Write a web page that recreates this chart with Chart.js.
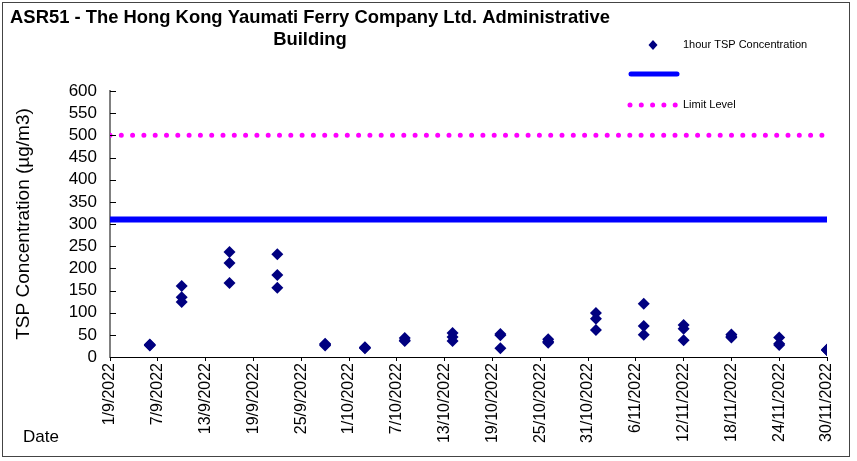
<!DOCTYPE html>
<html>
<head>
<meta charset="utf-8">
<script src="https://cdn.jsdelivr.net/npm/chart.js@4.4.0/dist/chart.umd.min.js"></script>
<style>
  html, body { margin: 0; padding: 0; background: #fff; }
  #wrap { position: relative; width: 857px; height: 461px; }
  #frame { position: absolute; left: 2px; top: 2px; width: 848px; height: 455px; border: 1px solid #444; box-sizing: border-box; pointer-events: none; }
</style>
</head>
<body>
<div id="wrap">
  <canvas id="chart" width="857" height="461"></canvas>
  <div id="frame"></div>
</div>
<script>
// sampling dates (d/m/yyyy) and 1-hour TSP readings, ug/m3
var sampleDates = [
  '6/9/2022', '6/9/2022', '6/9/2022',
  '10/9/2022', '10/9/2022', '10/9/2022',
  '16/9/2022', '16/9/2022', '16/9/2022',
  '22/9/2022', '22/9/2022', '22/9/2022',
  '28/9/2022', '28/9/2022', '28/9/2022',
  '3/10/2022', '3/10/2022', '3/10/2022',
  '8/10/2022', '8/10/2022', '8/10/2022',
  '14/10/2022', '14/10/2022', '14/10/2022',
  '20/10/2022', '20/10/2022', '20/10/2022',
  '26/10/2022', '26/10/2022', '26/10/2022',
  '1/11/2022', '1/11/2022', '1/11/2022',
  '7/11/2022', '7/11/2022', '7/11/2022',
  '12/11/2022', '12/11/2022', '12/11/2022',
  '18/11/2022', '18/11/2022', '18/11/2022',
  '24/11/2022', '24/11/2022', '24/11/2022',
  '30/11/2022', '30/11/2022', '30/11/2022'
];
var tspValues = [
  26, 28, 27,
  160, 135, 124,
  237, 212, 167,
  232, 185, 156,
  26, 30, 28,
  22, 20, 21,
  43, 38, 36,
  54, 45, 36,
  52, 49, 20,
  40, 35, 32,
  99, 86, 61,
  120, 70, 50,
  72, 64, 38,
  51, 47, 44,
  44, 30, 27,
  17, 16, 15
];
var actionLevel = 310;
var limitLevel = 500;
var axisStart = '1/9/2022';
var axisEnd = '30/11/2022';
var yTicks = [0, 50, 100, 150, 200, 250, 300, 350, 400, 450, 500, 550, 600];

function parseDate(s) {
  var p = s.split('/');
  return Date.UTC(+p[2], +p[1] - 1, +p[0]);
}
var DAY = 86400000;
var t0 = parseDate(axisStart);
function dayOf(s) { return (parseDate(s) - t0) / DAY; }
function labelOf(d) {
  var dt = new Date(t0 + d * DAY);
  return dt.getUTCDate() + '/' + (dt.getUTCMonth() + 1) + '/' + dt.getUTCFullYear();
}
var xMax = dayOf(axisEnd);

var points = sampleDates.map(function(s, i) { return { x: dayOf(s), y: tspValues[i] }; });

var FONT = 'Arial, "Liberation Sans", sans-serif';

// title, legend, inward y ticks, "Date" label
var decor = {
  id: 'decor',
  afterDraw: function(chart) {
    var ctx = chart.ctx;
    var ds = chart.data.datasets;
    ctx.save();
    ctx.fillStyle = '#000';
    ctx.font = 'bold 18.4px ' + FONT;
    ctx.textAlign = 'center';
    ctx.textBaseline = 'alphabetic';
    ctx.fillText('ASR51 - The Hong Kong Yaumati Ferry Company Ltd. Administrative', 310, 23);
    ctx.fillText('Building', 310, 45);

    // legend
    ctx.fillStyle = ds[0].backgroundColor;
    ctx.beginPath();
    ctx.moveTo(653, 40); ctx.lineTo(657.5, 45); ctx.lineTo(653, 50); ctx.lineTo(648.5, 45);
    ctx.closePath(); ctx.fill();
    ctx.fillStyle = '#000';
    ctx.font = '11px ' + FONT;
    ctx.textAlign = 'left';
    ctx.textBaseline = 'middle';
    ctx.fillText(ds[0].label, 683, 45);

    ctx.strokeStyle = ds[1].borderColor;
    ctx.lineWidth = 5;
    ctx.lineCap = 'round';
    ctx.beginPath(); ctx.moveTo(631, 74); ctx.lineTo(677, 74); ctx.stroke();

    ctx.strokeStyle = ds[2].borderColor;
    ctx.setLineDash(ds[2].borderDash);
    ctx.beginPath(); ctx.moveTo(630, 105); ctx.lineTo(678, 105); ctx.stroke();
    ctx.setLineDash([]);
    ctx.fillText(ds[2].label, 683, 105);

    // y ticks pointing inward
    var ys = chart.scales.y;
    ctx.strokeStyle = '#000';
    ctx.lineWidth = 1;
    ctx.lineCap = 'butt';
    ys.ticks.forEach(function(t) {
      var py = Math.round(ys.getPixelForValue(t.value)) + 0.5;
      ctx.beginPath(); ctx.moveTo(ys.right, py); ctx.lineTo(ys.right + 6, py); ctx.stroke();
    });

    ctx.font = '17px ' + FONT;
    ctx.textBaseline = 'alphabetic';
    ctx.fillText('Date', 23, 442);
    ctx.restore();
  }
};

new Chart(document.getElementById('chart'), {
  type: 'scatter',
  data: {
    datasets: [
      {
        label: '1hour TSP Concentration',
        data: points,
        pointStyle: 'rectRot',
        pointRadius: 6,
        pointHoverRadius: 6,
        backgroundColor: '#000080',
        borderColor: '#000080',
        borderWidth: 0,
        order: 0
      },
      {
        label: '',
        type: 'line',
        data: [{ x: 0, y: actionLevel }, { x: xMax + 0.3, y: actionLevel }],
        borderColor: '#0000FF',
        borderWidth: 6,
        pointRadius: 0,
        order: 2
      },
      {
        label: 'Limit Level',
        type: 'line',
        data: [{ x: 0, y: limitLevel }, { x: xMax + 0.3, y: limitLevel }],
        borderColor: '#FF00FF',
        borderWidth: 5,
        borderDash: [0, 11.3],
        borderCapStyle: 'round',
        pointRadius: 0,
        order: 1
      }
    ]
  },
  options: {
    responsive: false,
    animation: false,
    events: [],
    layout: { padding: { left: 12, right: 30, top: 91, bottom: 0 } },
    plugins: { legend: { display: false }, title: { display: false }, tooltip: { enabled: false } },
    scales: {
      x: {
        type: 'linear',
        min: 0,
        max: xMax,
        afterBuildTicks: function(scale) {
          var t = [];
          for (var d = 0; d <= xMax; d += 6) t.push({ value: d });
          scale.ticks = t;
        },
        afterFit: function(scale) { scale.height = 104; },
        border: { display: true, color: '#000', width: 1 },
        grid: { drawOnChartArea: false, drawTicks: true, tickLength: 4, color: '#000', offset: false },
        ticks: {
          autoSkip: false,
          maxRotation: 90,
          minRotation: 90,
          padding: 2,
          color: '#000',
          font: { family: FONT, size: 16 },
          callback: function(v) { return labelOf(v); }
        }
      },
      y: {
        min: 0,
        max: 600,
        afterBuildTicks: function(scale) {
          scale.ticks = yTicks.map(function(v) { return { value: v }; });
        },
        afterFit: function(scale) { scale.width = 98; },
        border: { display: true, color: '#808080', width: 2 },
        grid: { display: false },
        title: {
          display: true,
          text: 'TSP Concentration (\u00b5g/m3)',
          color: '#000',
          font: { family: FONT, size: 19 },
          padding: { top: 0, bottom: 0 }
        },
        ticks: {
          autoSkip: false,
          color: '#000',
          padding: 5,
          font: { family: FONT, size: 17 }
        }
      }
    }
  },
  plugins: [decor]
});
</script>
</body>
</html>
